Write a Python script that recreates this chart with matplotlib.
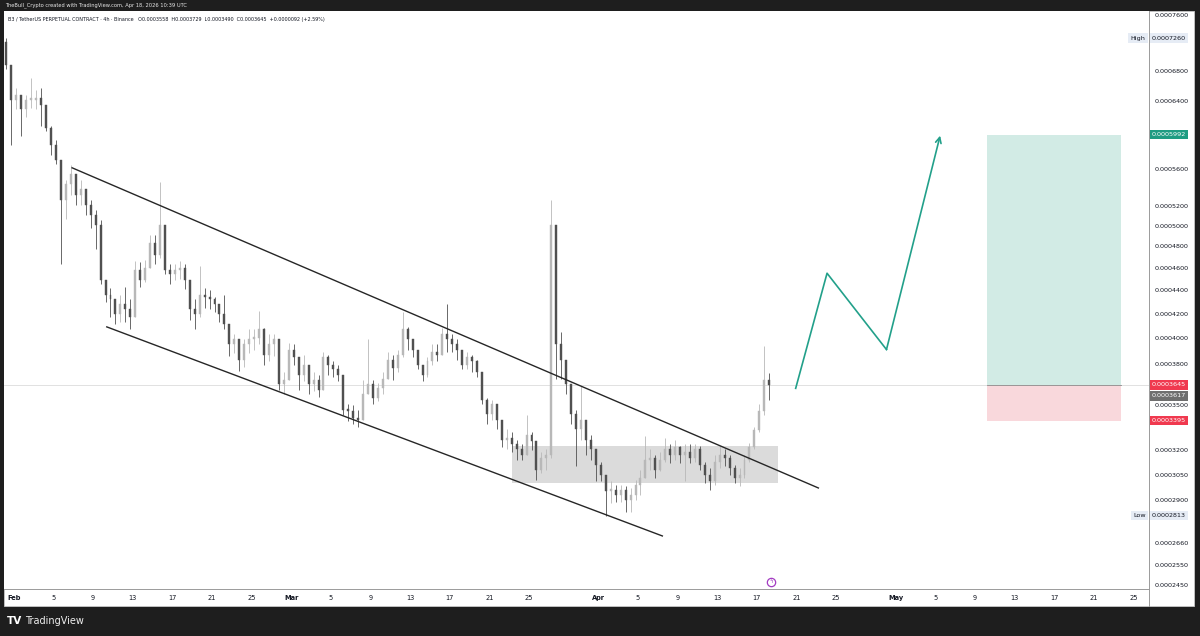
import matplotlib
matplotlib.use("Agg")
import matplotlib.pyplot as plt
import matplotlib.dates as mdates
import matplotlib.transforms as mtransforms
from matplotlib.patches import Rectangle
from matplotlib.ticker import FixedLocator, FixedFormatter, NullLocator
import numpy as np
import pandas as pd

UNIT = 1e-4  # all prices below are in units of 0.0001 USDT

# 12h candles starting 2026-01-31 00:00
candle_start = "2026-01-31 00:00"
first_open = 7.20
closes = [6.88, 6.42, 6.48, 6.30, 6.42, 6.42, 6.45, 6.36, 6.07, 5.87,
          5.70, 5.26, 5.43, 5.54, 5.32, 5.38, 5.21, 5.11, 5.01, 4.49,
          4.36, 4.32, 4.20, 4.28, 4.24, 4.17, 4.58, 4.49, 4.60, 4.83,
          4.72, 5.01, 4.58, 4.54, 4.58, 4.60, 4.49, 4.24, 4.20, 4.36,
          4.34, 4.32, 4.28, 4.20, 4.11, 3.95, 3.99, 3.83, 3.95, 3.99,
          4.00, 4.07, 3.87, 3.95, 3.99, 3.65, 3.68, 3.91, 3.85, 3.72,
          3.79, 3.65, 3.68, 3.61, 3.85, 3.79, 3.76, 3.72, 3.47, 3.46,
          3.41, 3.40, 3.58, 3.65, 3.55, 3.62, 3.69, 3.83, 3.77, 3.87,
          4.07, 3.99, 3.91, 3.79, 3.72, 3.82, 3.89, 3.87, 4.03, 3.99,
          3.95, 3.91, 3.79, 3.85, 3.82, 3.74, 3.54, 3.44, 3.51, 3.40,
          3.27, 3.28, 3.24, 3.21, 3.17, 3.30, 3.26, 3.08, 3.15, 3.17,
          5.01, 3.95, 3.83, 3.65, 3.44, 3.34, 3.40, 3.27, 3.21, 3.11,
          3.05, 2.95, 2.96, 2.93, 2.96, 2.90, 2.93, 2.99, 3.03, 3.14,
          3.15, 3.08, 3.14, 3.21, 3.17, 3.22, 3.17, 3.19, 3.15, 3.21,
          3.11, 3.05, 3.01, 3.13, 3.17, 3.15, 3.09, 3.03, 3.05, 3.14,
          3.22, 3.33, 3.46, 3.68, 3.645]
highs = [7.26, 6.88, 6.58, 6.48, 6.48, 6.71, 6.55, 6.58, 6.32, 6.09,
         5.93, 5.70, 5.48, 5.64, 5.54, 5.48, 5.32, 5.26, 5.16, 5.06,
         4.47, 4.42, 4.32, 4.36, 4.43, 4.32, 4.66, 4.65, 4.67, 4.91,
         4.91, 5.45, 5.01, 4.63, 4.63, 4.66, 4.63, 4.45, 4.32, 4.62,
         4.42, 4.40, 4.34, 4.28, 4.36, 4.11, 4.03, 3.97, 3.99, 4.07,
         4.07, 4.22, 4.08, 4.03, 4.03, 3.99, 3.74, 3.96, 3.95, 3.85,
         3.87, 3.79, 3.74, 3.72, 3.89, 3.87, 3.82, 3.79, 3.72, 3.51,
         3.50, 3.47, 3.68, 3.99, 3.68, 3.66, 3.74, 3.89, 3.87, 3.91,
         4.21, 4.09, 3.99, 3.91, 3.79, 3.85, 3.95, 3.95, 4.08, 4.28,
         4.03, 3.99, 3.89, 3.89, 3.87, 3.83, 3.74, 3.55, 3.54, 3.51,
         3.40, 3.34, 3.32, 3.27, 3.24, 3.43, 3.32, 3.24, 3.19, 3.21,
         5.26, 5.01, 4.05, 3.82, 3.61, 3.47, 3.64, 3.37, 3.30, 3.21,
         3.13, 3.05, 3.01, 2.99, 2.99, 2.98, 2.97, 3.02, 3.08, 3.29,
         3.21, 3.17, 3.19, 3.28, 3.24, 3.27, 3.23, 3.24, 3.24, 3.24,
         3.23, 3.13, 3.09, 3.17, 3.23, 3.21, 3.17, 3.11, 3.09, 3.17,
         3.25, 3.35, 3.51, 3.94, 3.73]
lows = [6.82, 5.87, 6.30, 5.98, 6.21, 6.32, 6.30, 6.10, 6.04, 5.76,
        5.65, 4.63, 5.07, 5.32, 5.21, 5.21, 5.11, 4.98, 4.77, 4.45,
        4.30, 4.17, 4.11, 4.13, 4.13, 4.07, 4.20, 4.43, 4.47, 4.65,
        4.63, 4.69, 4.54, 4.45, 4.49, 4.50, 4.41, 4.15, 4.07, 4.17,
        4.25, 4.24, 4.21, 4.13, 4.07, 3.86, 3.88, 3.75, 3.78, 3.88,
        3.91, 3.95, 3.79, 3.82, 3.86, 3.61, 3.58, 3.68, 3.79, 3.61,
        3.67, 3.58, 3.60, 3.56, 3.61, 3.72, 3.70, 3.67, 3.43, 3.39,
        3.37, 3.35, 3.40, 3.58, 3.51, 3.53, 3.58, 3.72, 3.68, 3.74,
        3.85, 3.91, 3.85, 3.76, 3.67, 3.70, 3.79, 3.82, 3.91, 3.89,
        3.89, 3.83, 3.76, 3.76, 3.74, 3.70, 3.51, 3.37, 3.40, 3.34,
        3.22, 3.21, 3.19, 3.14, 3.14, 3.17, 3.20, 3.02, 3.06, 3.08,
        3.15, 3.69, 3.69, 3.58, 3.37, 3.10, 3.27, 3.17, 3.14, 3.01,
        3.01, 2.81, 2.88, 2.89, 2.89, 2.83, 2.83, 2.90, 2.93, 3.03,
        3.08, 3.03, 3.07, 3.13, 3.12, 3.14, 3.12, 3.01, 3.12, 3.13,
        3.08, 3.00, 2.96, 2.99, 3.09, 3.10, 3.05, 3.00, 2.98, 3.03,
        3.13, 3.21, 3.32, 3.43, 3.54]

# drawings on the chart
channel_upper = [("2026-02-06 21:00", 5.61), ("2026-04-23 05:00", 2.97)]
channel_lower = [("2026-02-10 09:00", 4.09), ("2026-04-07 11:00", 2.70)]
range_box = ("2026-03-23 07:00", "2026-04-19 02:00", 3.00, 3.23)
path_times = ["2026-04-20 22:00", "2026-04-24 02:00", "2026-04-30 02:00", "2026-05-05 12:00"]
path_prices = [3.62, 4.55, 3.91, 5.98]
position_times = ("2026-05-10 05:00", "2026-05-23 19:00")
entry, target, stop = 3.645, 5.992, 3.395
last_price, mark_price = 3.645, 3.617
high_price, low_price = 7.26, 2.813

price_ticks = [7.6, 6.8, 6.4, 5.6, 5.2, 5.0, 4.8, 4.6, 4.4, 4.2, 4.0,
               3.8, 3.5, 3.2, 3.05, 2.9, 2.66, 2.55, 2.45]
date_ticks = ["2026-02-01", "2026-02-05", "2026-02-09", "2026-02-13", "2026-02-17",
              "2026-02-21", "2026-02-25", "2026-03-01", "2026-03-05", "2026-03-09",
              "2026-03-13", "2026-03-17", "2026-03-21", "2026-03-25", "2026-04-01",
              "2026-04-05", "2026-04-09", "2026-04-13", "2026-04-17", "2026-04-21",
              "2026-04-25", "2026-05-01", "2026-05-05", "2026-05-09", "2026-05-13",
              "2026-05-17", "2026-05-21", "2026-05-25"]
date_labels = ["Feb", "5", "9", "13", "17", "21", "25", "Mar", "5", "9", "13", "17",
               "21", "25", "Apr", "5", "9", "13", "17", "21", "25", "May", "5", "9",
               "13", "17", "21", "25"]

W, H = 1200, 636
BG = "#1e1e1e"
TXT = "#131722"


def px(x, y):
    """figure fraction from pixel position (y from top)"""
    return x / W, 1 - y / H


def t(s):
    return mdates.date2num(pd.Timestamp(s))


fig = plt.figure(figsize=(12, 6.36), dpi=100, facecolor=BG)
plt.rcParams['font.family'] = ['DejaVu Sans']

# white chart panel
x0, y0 = px(4, 606)
x1, y1 = px(1194, 11)
fig.add_artist(Rectangle((x0, y0), x1 - x0, y1 - y0, transform=fig.transFigure,
                         facecolor="white", edgecolor="#c8c8c8", lw=0.6, zorder=0))

l, b = px(4, 589)
r, tp = px(1149, 11)
ax = fig.add_axes([l, b, r - l, tp - b])
ax.set_facecolor("white")

# candles
times = pd.date_range(candle_start, periods=len(closes), freq="12h") + pd.Timedelta(hours=6)
xs = mdates.date2num(times)
c = np.array(closes) * UNIT
o = np.array([first_open] + closes[:-1]) * UNIT
h = np.maximum(np.array(highs) * UNIT, np.maximum(o, c))
lo = np.minimum(np.array(lows) * UNIT, np.minimum(o, c))
up = c >= o
cols = np.where(up, "#b8b8b8", "#505050")
ax.vlines(xs, lo, h, colors=cols, lw=0.6, zorder=3)
ax.bar(xs, np.maximum(np.abs(c - o), 0.004 * c), bottom=np.minimum(o, c), width=0.2,
       color=cols, edgecolor=cols, lw=0.3, zorder=4)

# current price line
ax.axhline(last_price * UNIT, color="#dcdcdc", lw=0.6, zorder=1)

# channel
for line in (channel_upper, channel_lower):
    ax.plot([t(line[0][0]), t(line[1][0])], [line[0][1] * UNIT, line[1][1] * UNIT],
            color="#262626", lw=1.0, zorder=5)

# consolidation range
bx0, bx1, blo, bhi = range_box
ax.add_patch(Rectangle((t(bx0), blo * UNIT), t(bx1) - t(bx0), (bhi - blo) * UNIT,
                       facecolor="#cfcfcf", alpha=0.75, edgecolor="none", zorder=2))

# projected path
green = "#22a08a"
pt = [t(s) for s in path_times]
pp = [p * UNIT for p in path_prices]
ax.plot(pt[:-1], pp[:-1], color=green, lw=1.2, zorder=6)
ax.annotate("", xy=(pt[-1], pp[-1]), xytext=(pt[-2], pp[-2]),
            arrowprops=dict(arrowstyle="->", color=green, lw=1.2, mutation_scale=10,
                            shrinkA=0, shrinkB=0), zorder=6)

# long position box
p0, p1 = t(position_times[0]), t(position_times[1])
ax.add_patch(Rectangle((p0, entry * UNIT), p1 - p0, (target - entry) * UNIT,
                       facecolor="#d2ebe5", edgecolor="none", zorder=2))
ax.add_patch(Rectangle((p0, stop * UNIT), p1 - p0, (entry - stop) * UNIT,
                       facecolor="#f9d8dc", edgecolor="none", zorder=2))
ax.plot([p0, p1], [entry * UNIT] * 2, color="#8a8a8a", lw=0.6, zorder=3)

# event marker at the bottom
ax.plot(t("2026-04-18 10:00"), 2.465 * UNIT, marker="o", ms=6, mfc="white",
        mec="#a33bc2", mew=0.9, zorder=7, clip_on=False)
ax.text(t("2026-04-18 10:00"), 2.465 * UNIT, "ϟ", color="#a33bc2", fontsize=4,
        ha="center", va="center", zorder=8)

# axes
ax.set_yscale("log")
ax.set_ylim(2.43 * UNIT, 7.66 * UNIT)
ax.set_xlim(t("2026-01-31 00:00"), t("2026-05-26 14:00"))
ax.yaxis.tick_right()
ax.yaxis.set_major_locator(FixedLocator([v * UNIT for v in price_ticks]))
ax.yaxis.set_major_formatter(FixedFormatter([f"{v * UNIT:.7f}" for v in price_ticks]))
ax.yaxis.set_minor_locator(NullLocator())
ax.set_xticks([t(d) for d in date_ticks])
ax.set_xticklabels(date_labels)
ax.tick_params(axis="y", length=0, pad=4, labelsize=4.6, labelcolor=TXT)
ax.tick_params(axis="x", length=0, pad=4, labelsize=4.8, labelcolor=TXT)
for lab in ax.get_xticklabels():
    if lab.get_text() in ("Feb", "Mar", "Apr", "May"):
        lab.set_fontweight("bold")
for side in ("left", "top"):
    ax.spines[side].set_visible(False)
for side in ("right", "bottom"):
    ax.spines[side].set_color("#9a9a9a")
    ax.spines[side].set_linewidth(0.7)
fig.add_artist(plt.Line2D([r, r], [px(0, 606)[1], b], transform=fig.transFigure,
                          color="#9a9a9a", lw=0.7))

# price labels on the right axis (TradingView pushes overlapping labels apart)
tr = mtransforms.blended_transform_factory(ax.transAxes, ax.transData)
label_pos = {target: target, entry: entry, mark_price: 3.566, stop: stop}
for val, face in [(target, "#1f9c82"), (entry, "#f0394f"),
                  (mark_price, "#6f6f6f"), (stop, "#f0394f")]:
    ax.text(1.0025, label_pos[val] * UNIT, f"{val * UNIT:.7f}", transform=tr, fontsize=4.6,
            color="white", va="center", ha="left", clip_on=False, zorder=10,
            bbox=dict(boxstyle="square,pad=0.35", fc=face, ec="none"))
for val, name in [(high_price, "High"), (low_price, "Low")]:
    ax.text(1.0025, val * UNIT, f"{val * UNIT:.7f}", transform=tr, fontsize=4.6,
            color=TXT, va="center", ha="left", clip_on=False, zorder=10,
            bbox=dict(boxstyle="square,pad=0.35", fc="#e6ecf5", ec="none"))
    ax.text(0.997, val * UNIT, name, transform=tr, fontsize=4.6, color=TXT,
            va="center", ha="right", zorder=10,
            bbox=dict(boxstyle="square,pad=0.35", fc="#e6ecf5", ec="none"))

# header texts
fig.text(*px(5, 5), "TheBull_Crypto created with TradingView.com, Apr 18, 2026 10:39 UTC",
         color="#e8e8e8", fontsize=3.7, va="center", ha="left")
fig.text(*px(8, 20), "B3 / TetherUS PERPETUAL CONTRACT · 4h · Binance   "
         "O0.0003558  H0.0003729  L0.0003490  C0.0003645  +0.0000092 (+2.59%)",
         color=TXT, fontsize=3.5, va="center", ha="left")

# TradingView logo
fig.text(*px(7, 621), "TV", color="white", fontsize=7.5, fontweight="heavy",
         va="center", ha="left")
fig.text(*px(25, 621), "TradingView", color="#eeeeee", fontsize=7,
         va="center", ha="left")

fig.savefig("out.png", dpi=100, facecolor=BG)
